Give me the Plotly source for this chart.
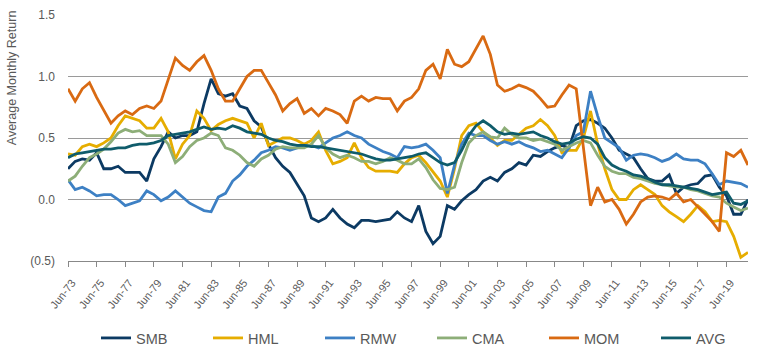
import pandas as pd
import plotly.graph_objects as go

# Semi-annual observations, Jun-1973 .. Dec-2020
dates = pd.date_range("1973-06-01", periods=96, freq="6MS")

smb = [0.25,0.31,0.33,0.32,0.38,0.25,0.25,0.27,0.22,0.22,0.22,0.15,0.33,0.43,0.55,0.50,0.52,0.52,0.55,0.78,
       0.98,0.86,0.84,0.86,0.76,0.74,0.64,0.59,0.45,0.34,0.27,0.22,0.12,0.03,-0.15,-0.18,-0.15,-0.08,-0.15,-0.20,
       -0.23,-0.17,-0.17,-0.18,-0.17,-0.16,-0.10,-0.15,-0.18,-0.05,-0.26,-0.36,-0.30,-0.05,-0.08,-0.01,0.04,0.08,0.15,0.18,
       0.15,0.22,0.25,0.30,0.28,0.36,0.35,0.39,0.42,0.44,0.42,0.60,0.64,0.65,0.62,0.58,0.50,0.40,0.37,0.34,
       0.25,0.17,0.15,0.15,0.20,0.05,0.10,0.12,0.13,0.19,0.20,0.10,0.03,-0.12,-0.12,0.00]
hml = [0.37,0.36,0.43,0.45,0.43,0.46,0.50,0.60,0.68,0.66,0.64,0.58,0.58,0.66,0.55,0.33,0.45,0.52,0.72,0.66,
       0.56,0.61,0.64,0.66,0.64,0.62,0.50,0.62,0.44,0.47,0.50,0.50,0.48,0.45,0.48,0.55,0.40,0.29,0.31,0.34,
       0.46,0.34,0.26,0.23,0.23,0.23,0.22,0.29,0.34,0.36,0.30,0.22,0.15,0.02,0.25,0.52,0.60,0.62,0.55,0.50,
       0.44,0.48,0.48,0.53,0.58,0.60,0.65,0.60,0.52,0.38,0.40,0.40,0.50,0.72,0.45,0.25,0.08,0.00,0.00,0.08,
       0.12,0.08,0.04,-0.05,-0.10,-0.14,-0.18,-0.12,-0.05,-0.10,-0.18,-0.17,-0.18,-0.30,-0.47,-0.43]
rmw = [0.16,0.08,0.10,0.07,0.03,0.04,0.04,0.00,-0.05,-0.03,-0.01,0.07,0.04,-0.01,0.02,0.07,0.02,-0.03,-0.06,-0.09,
       -0.10,0.02,0.05,0.15,0.20,0.27,0.32,0.38,0.40,0.43,0.42,0.40,0.42,0.44,0.44,0.42,0.46,0.50,0.52,0.55,
       0.52,0.50,0.45,0.42,0.39,0.37,0.34,0.43,0.42,0.43,0.45,0.40,0.34,0.05,0.28,0.45,0.54,0.52,0.52,0.48,
       0.45,0.47,0.45,0.47,0.44,0.42,0.39,0.40,0.37,0.34,0.42,0.52,0.55,0.88,0.68,0.50,0.46,0.42,0.32,0.36,
       0.37,0.36,0.34,0.31,0.33,0.37,0.33,0.32,0.32,0.29,0.21,0.12,0.15,0.14,0.13,0.10]
cma = [0.15,0.19,0.27,0.34,0.37,0.41,0.47,0.54,0.57,0.55,0.56,0.52,0.52,0.52,0.45,0.30,0.35,0.43,0.48,0.50,
       0.54,0.52,0.42,0.40,0.36,0.30,0.27,0.33,0.36,0.41,0.43,0.42,0.42,0.42,0.45,0.52,0.42,0.37,0.34,0.36,
       0.34,0.31,0.31,0.29,0.31,0.34,0.32,0.29,0.29,0.33,0.26,0.16,0.09,0.08,0.10,0.30,0.46,0.52,0.55,0.51,
       0.50,0.58,0.53,0.50,0.50,0.48,0.49,0.47,0.45,0.40,0.43,0.46,0.48,0.46,0.36,0.27,0.23,0.21,0.21,0.18,
       0.17,0.15,0.13,0.12,0.11,0.10,0.10,0.08,0.07,0.05,0.03,0.02,-0.03,-0.06,-0.09,-0.07]
mom = [0.90,0.80,0.90,0.95,0.83,0.72,0.62,0.68,0.72,0.69,0.74,0.76,0.74,0.80,0.98,1.15,1.09,1.05,1.12,1.17,
       1.05,0.90,0.80,0.80,0.90,1.00,1.05,1.05,0.95,0.85,0.72,0.78,0.82,0.70,0.74,0.68,0.74,0.72,0.69,0.62,
       0.80,0.84,0.80,0.83,0.82,0.82,0.72,0.80,0.83,0.90,1.05,1.10,0.98,1.22,1.10,1.08,1.12,1.22,1.33,1.18,
       0.93,0.88,0.90,0.93,0.91,0.88,0.82,0.75,0.76,0.85,0.93,0.90,0.40,-0.05,0.10,-0.02,0.00,-0.08,-0.20,-0.12,
       -0.02,0.02,0.03,0.02,0.00,0.05,-0.02,0.00,-0.06,-0.12,-0.18,-0.26,0.38,0.35,0.40,0.28]
avg = [0.34,0.37,0.38,0.39,0.40,0.41,0.41,0.42,0.42,0.44,0.45,0.45,0.46,0.48,0.52,0.53,0.54,0.55,0.57,0.59,
       0.57,0.58,0.57,0.60,0.58,0.55,0.54,0.53,0.50,0.48,0.47,0.45,0.44,0.44,0.43,0.43,0.42,0.41,0.40,0.39,
       0.38,0.37,0.35,0.33,0.32,0.32,0.33,0.34,0.35,0.37,0.38,0.34,0.30,0.28,0.30,0.40,0.52,0.60,0.64,0.60,
       0.55,0.53,0.54,0.53,0.54,0.55,0.52,0.50,0.47,0.45,0.46,0.49,0.51,0.50,0.45,0.34,0.28,0.25,0.23,0.20,
       0.19,0.17,0.14,0.12,0.12,0.11,0.10,0.09,0.08,0.06,0.04,0.05,0.06,-0.03,-0.04,-0.01]

series_names = ["SMB", "HML", "RMW", "CMA", "MOM", "AVG"]
series_values = [smb, hml, rmw, cma, mom, avg]
series_colors = ["#0c3a63", "#e6ad00", "#3d80c4", "#8dae78", "#d96a12", "#0f5c6b"]

y_tickvals = [-0.5, 0.0, 0.5, 1.0, 1.5]
y_ticktext = ["(0.5)", "0.0", "0.5", "1.0", "1.5"]

FONT = "Arial, Liberation Sans, sans-serif"
GREY = "#595959"

fig = go.Figure()
for name, vals, col in zip(series_names, series_values, series_colors):
    fig.add_trace(go.Scatter(x=dates, y=vals, name=name, mode="lines",
                             line=dict(color=col, width=2.8)))

fig.update_layout(
    width=770, height=354,
    margin=dict(l=68, r=22, t=15, b=93, autoexpand=False),
    paper_bgcolor="white", plot_bgcolor="white",
    font=dict(family=FONT, color=GREY),
    showlegend=True,
    legend=dict(orientation="h", x=96/770, xref="container", xanchor="left",
                y=(354 - 338) / 354, yref="container", yanchor="middle",
                font=dict(size=14.5, color=GREY), entrywidth=67, traceorder="normal"),
    xaxis=dict(type="date", range=["1973-06-01", "2020-12-01"],
               tick0="1973-06-01", dtick="M24", tickformat="%b-%y",
               tickangle=-52, tickfont=dict(size=11, color=GREY),
               ticklabelstandoff=5, ticklabelshift=4,
               showgrid=False, showline=True, linecolor="#888888", linewidth=1,
               ticks="outside", ticklen=5, tickcolor="#888888", zeroline=False,
               automargin=False),
    yaxis=dict(range=[-0.5, 1.5], tickvals=y_tickvals, ticktext=y_ticktext,
               tickfont=dict(size=12, color=GREY), showgrid=True, gridcolor="#9a9a9a",
               gridwidth=1, zeroline=False, showline=False, ticks="",
               ticklabelstandoff=12, automargin=False),
    annotations=[dict(text="Average Monthly Return", textangle=-90, xref="paper", yref="paper",
                      x=-0.082, y=0.744, xanchor="center", yanchor="middle", showarrow=False,
                      font=dict(size=12.5, color=GREY))],
)

fig.write_html("out.html")
